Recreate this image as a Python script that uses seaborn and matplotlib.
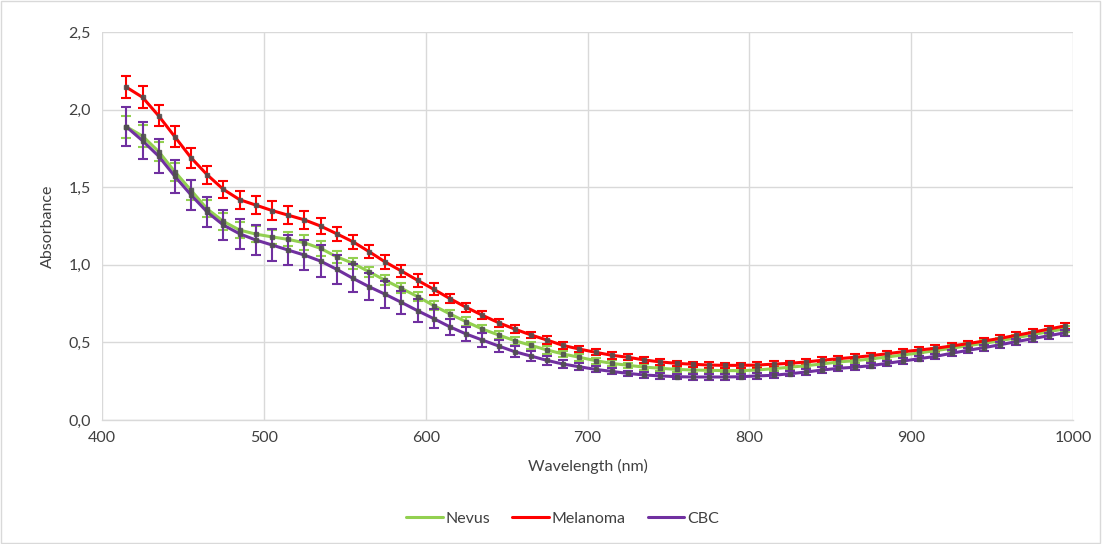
import numpy as np
import pandas as pd
import matplotlib
matplotlib.use("Agg")
import matplotlib.pyplot as plt
import seaborn as sns
from matplotlib.ticker import FuncFormatter, MultipleLocator
from matplotlib.patches import Rectangle

wavelength = list(range(415, 1000, 10))

melanoma = [2.145, 2.08, 1.96, 1.825, 1.69, 1.58, 1.486, 1.42, 1.385, 1.35,
            1.32, 1.29, 1.25, 1.20, 1.149, 1.085, 1.018, 0.96, 0.90, 0.842,
            0.782, 0.726, 0.675, 0.627, 0.586, 0.548, 0.515, 0.48, 0.457, 0.436,
            0.417, 0.404, 0.387, 0.374, 0.365, 0.359, 0.354, 0.352, 0.352, 0.354,
            0.36, 0.365, 0.374, 0.385, 0.395, 0.404, 0.414, 0.427, 0.44, 0.451,
            0.462, 0.477, 0.492, 0.509, 0.526, 0.546, 0.565, 0.586, 0.606]
melanoma_err = [0.073, 0.072, 0.068, 0.067, 0.063, 0.056, 0.057, 0.059, 0.057, 0.059,
                0.059, 0.056, 0.054, 0.045, 0.046, 0.043, 0.043, 0.040, 0.041, 0.039,
                0.030, 0.029, 0.027, 0.026, 0.027, 0.021, 0.024, 0.023, 0.021, 0.020,
                0.021, 0.019, 0.018, 0.018, 0.017, 0.017, 0.017, 0.017, 0.017, 0.017,
                0.017, 0.017, 0.017, 0.018, 0.018, 0.018, 0.018, 0.019, 0.019, 0.019,
                0.019, 0.020, 0.020, 0.020, 0.020, 0.020, 0.021, 0.021, 0.021]

nevus = [1.89, 1.83, 1.73, 1.60, 1.48, 1.36, 1.28, 1.224, 1.198, 1.18,
         1.164, 1.142, 1.106, 1.052, 1.01, 0.955, 0.90, 0.848, 0.795, 0.737,
         0.683, 0.633, 0.586, 0.548, 0.511, 0.481, 0.451, 0.425, 0.404, 0.382,
         0.365, 0.352, 0.341, 0.333, 0.326, 0.322, 0.32, 0.318, 0.318, 0.322,
         0.331, 0.34, 0.35, 0.361, 0.374, 0.382, 0.393, 0.406, 0.419, 0.432,
         0.447, 0.462, 0.479, 0.494, 0.511, 0.53, 0.55, 0.569, 0.588]
nevus_err = [0.070, 0.072, 0.064, 0.059, 0.064, 0.055, 0.055, 0.054, 0.050, 0.045,
             0.045, 0.048, 0.046, 0.040, 0.034, 0.034, 0.033, 0.032, 0.031, 0.030,
             0.029, 0.028, 0.027, 0.026, 0.025, 0.024, 0.023, 0.022, 0.021, 0.020,
             0.019, 0.018, 0.018, 0.017, 0.017, 0.017, 0.017, 0.017, 0.017, 0.017,
             0.017, 0.017, 0.017, 0.017, 0.017, 0.017, 0.017, 0.017, 0.018, 0.018,
             0.018, 0.018, 0.018, 0.019, 0.019, 0.019, 0.019, 0.020, 0.020]

cbc = [1.89, 1.80, 1.70, 1.57, 1.45, 1.34, 1.256, 1.20, 1.16, 1.128,
       1.095, 1.063, 1.024, 0.971, 0.913, 0.859, 0.81, 0.758, 0.704, 0.653,
       0.60, 0.554, 0.515, 0.477, 0.44, 0.412, 0.384, 0.36, 0.343, 0.326,
       0.313, 0.30, 0.29, 0.284, 0.279, 0.277, 0.277, 0.277, 0.279, 0.284,
       0.288, 0.298, 0.309, 0.322, 0.333, 0.34, 0.35, 0.365, 0.38, 0.395,
       0.41, 0.43, 0.449, 0.466, 0.485, 0.505, 0.524, 0.543, 0.562]
cbc_err = [0.127, 0.118, 0.110, 0.104, 0.098, 0.094, 0.096, 0.097, 0.094, 0.102,
           0.097, 0.097, 0.102, 0.094, 0.091, 0.086, 0.086, 0.073, 0.073, 0.061,
           0.054, 0.043, 0.043, 0.040, 0.034, 0.032, 0.027, 0.024, 0.021, 0.020,
           0.019, 0.018, 0.017, 0.017, 0.017, 0.017, 0.017, 0.017, 0.017, 0.017,
           0.017, 0.017, 0.017, 0.017, 0.017, 0.017, 0.017, 0.017, 0.018, 0.018,
           0.018, 0.018, 0.018, 0.019, 0.019, 0.019, 0.019, 0.020, 0.020]

series_names = ["Nevus", "Melanoma", "CBC"]
series_values = [nevus, melanoma, cbc]
series_errors = [nevus_err, melanoma_err, cbc_err]
colors = {"Nevus": "#92D050", "Melanoma": "#FF0000", "CBC": "#7030A0"}

rows = []
for name, vals, errs in zip(series_names, series_values, series_errors):
    for w, v, e in zip(wavelength, vals, errs):
        rows.append({"Wavelength": w, "Absorbance": v, "Err": e, "Series": name})
df = pd.DataFrame(rows)

sns.set_theme(style="white")
plt.rcParams["font.family"] = ["Lato", "DejaVu Sans"]

fig = plt.figure(figsize=(11.02, 5.44), dpi=100)
ax = fig.add_axes([0.0926, 0.228, 0.8811, 0.713])

for i, name in enumerate(series_names):
    sub = df[df["Series"] == name]
    ax.errorbar(sub["Wavelength"], sub["Absorbance"], yerr=sub["Err"], fmt="none",
                ecolor=colors[name], elinewidth=1.5, capsize=3.5, capthick=1.5,
                zorder=3 + i)

sns.lineplot(data=df, x="Wavelength", y="Absorbance", hue="Series",
             hue_order=series_names, palette=colors, linewidth=2.2,
             ax=ax, zorder=4, legend=True)
for i, name in enumerate(series_names):
    sub = df[df["Series"] == name]
    ax.plot(sub["Wavelength"], sub["Absorbance"], ls="none", marker="s",
            markersize=3.3, color="#505050", alpha=0.85, zorder=6)

ax.set_xlim(400, 1000)
ax.set_ylim(0, 2.5)
ax.xaxis.set_major_locator(MultipleLocator(100))
ax.yaxis.set_major_locator(MultipleLocator(0.5))
ax.yaxis.set_major_formatter(FuncFormatter(lambda v, p: f"{v:.1f}".replace(".", ",")))
ax.grid(True, color="#d9d9d9", linewidth=1)
ax.set_axisbelow(True)
for s in ["top", "right", "left"]:
    ax.spines[s].set_visible(False)
ax.spines["bottom"].set_color("#d9d9d9")
ax.spines["bottom"].set_linewidth(1)
ax.tick_params(axis="both", length=0, labelsize=11.5, labelcolor="#404040", pad=8)

ax.set_xlabel("Wavelength (nm)", fontsize=11.5, color="#404040", labelpad=10)
ax.set_ylabel("Absorbance", fontsize=11.5, color="#404040", labelpad=10)

handles, labels = ax.get_legend_handles_labels()
leg = ax.legend(handles, labels, loc="center", bbox_to_anchor=(0.474, -0.255),
                ncol=3, frameon=False, fontsize=11.5, handlelength=2.3,
                columnspacing=1.4, handletextpad=0.15)
for t in leg.get_texts():
    t.set_color("#404040")
for h in leg.legend_handles:
    h.set_linewidth(2.2)

fig.patches.append(Rectangle((0.001, 0.001), 0.997, 0.997, transform=fig.transFigure,
                             fill=False, edgecolor="#d9d9d9", linewidth=1))

fig.savefig("out.png", dpi=100, facecolor="white")
